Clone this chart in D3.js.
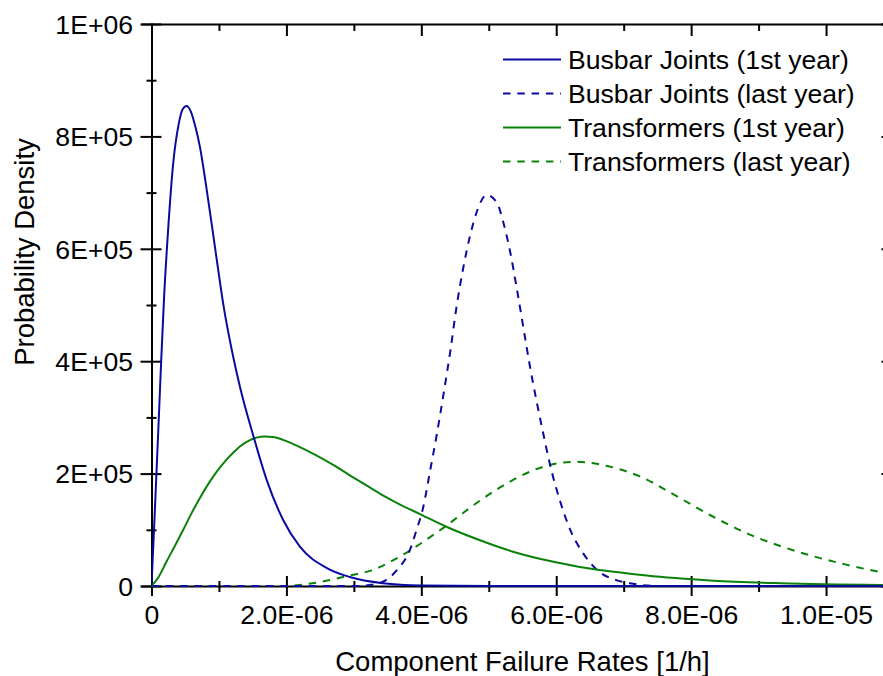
<!DOCTYPE html>
<html>
<head>
<meta charset="utf-8">
<script src="https://cdn.jsdelivr.net/npm/d3@7"></script>
<style>
  html, body { margin: 0; padding: 0; background: #fff; }
  svg { display: block; font-family: "Liberation Sans", Arial, sans-serif; }
</style>
</head>
<body>
<svg id="chart" width="883" height="676"></svg>
<script>
// ---------------- DATA ----------------
// failure rate [1/h] and probability density
const busbar1stX = [0, 0.05e-6, 0.10e-6, 0.14e-6, 0.185e-6, 0.25e-6, 0.32e-6, 0.40e-6, 0.46e-6, 0.52e-6, 0.58e-6, 0.645e-6, 0.72e-6, 0.80e-6, 0.89e-6, 0.98e-6, 1.07e-6, 1.19e-6, 1.31e-6, 1.52e-6, 1.71e-6, 1.95e-6, 2.2e-6, 2.6e-6, 2.94e-6, 3.43e-6, 4.0e-6, 5.0e-6, 11e-6];
const busbar1stY = [0, 1.35e5, 2.75e5, 3.9e5, 5.1e5, 6.4e5, 7.5e5, 8.2e5, 8.48e5, 8.54e5, 8.45e5, 8.2e5, 7.8e5, 7.2e5, 6.46e5, 5.7e5, 4.97e5, 4.2e5, 3.55e5, 2.63e5, 1.88e5, 1.18e5, 0.70e5, 0.32e5, 0.16e5, 0.05e5, 0.01e5, 0, 0];

const busbarLastX = [0, 3.0e-6, 3.24e-6, 3.44e-6, 3.64e-6, 3.83e-6, 3.93e-6, 4.03e-6, 4.13e-6, 4.23e-6, 4.33e-6, 4.43e-6, 4.52e-6, 4.62e-6, 4.72e-6, 4.82e-6, 4.97e-6, 5.12e-6, 5.22e-6, 5.32e-6, 5.41e-6, 5.51e-6, 5.61e-6, 5.71e-6, 5.81e-6, 5.91e-6, 6.06e-6, 6.20e-6, 6.40e-6, 6.60e-6, 6.90e-6, 7.09e-6, 7.5e-6, 11e-6];
const busbarLastY = [0, 0, 0.02e5, 0.08e5, 0.285e5, 0.64e5, 1.0e5, 1.41e5, 2.05e5, 2.70e5, 3.42e5, 4.18e5, 4.95e5, 5.65e5, 6.22e5, 6.65e5, 6.96e5, 6.82e5, 6.45e5, 5.93e5, 5.33e5, 4.62e5, 3.91e5, 3.28e5, 2.70e5, 2.15e5, 1.50e5, 1.02e5, 0.58e5, 0.29e5, 0.10e5, 0.05e5, 0, 0];

const trafo1stX = [0, 0.1e-6, 0.225e-6, 0.35e-6, 0.47e-6, 0.6e-6, 0.72e-6, 0.85e-6, 0.97e-6, 1.1e-6, 1.21e-6, 1.33e-6, 1.46e-6, 1.57e-6, 1.68e-6, 1.8e-6, 1.95e-6, 2.2e-6, 2.45e-6, 2.7e-6, 2.94e-6, 3.2e-6, 3.45e-6, 3.7e-6, 3.98e-6, 4.38e-6, 4.97e-6, 5.36e-6, 5.96e-6, 6.35e-6, 7.09e-6, 7.34e-6, 8.33e-6, 9.32e-6, 10.8e-6, 11e-6];
const trafo1stY = [0, 0.15e5, 0.44e5, 0.72e5, 1.0e5, 1.31e5, 1.57e5, 1.83e5, 2.04e5, 2.23e5, 2.37e5, 2.50e5, 2.595e5, 2.645e5, 2.66e5, 2.65e5, 2.60e5, 2.47e5, 2.32e5, 2.15e5, 1.97e5, 1.78e5, 1.60e5, 1.44e5, 1.28e5, 1.05e5, 0.77e5, 0.61e5, 0.43e5, 0.34e5, 0.22e5, 0.185e5, 0.095e5, 0.05e5, 0.02e5, 0.018e5];

const trafoLastX = [0, 2.0e-6, 2.2e-6, 2.45e-6, 2.7e-6, 2.95e-6, 3.24e-6, 3.39e-6, 3.6e-6, 3.83e-6, 4.13e-6, 4.38e-6, 4.62e-6, 4.87e-6, 5.15e-6, 5.46e-6, 5.86e-6, 6.30e-6, 6.70e-6, 7.24e-6, 7.84e-6, 8.3e-6, 8.82e-6, 9.3e-6, 9.81e-6, 10.3e-6, 10.8e-6, 11e-6];
const trafoLastY = [0, 0, 0.02e5, 0.06e5, 0.12e5, 0.19e5, 0.27e5, 0.34e5, 0.47e5, 0.63e5, 0.87e5, 1.08e5, 1.30e5, 1.52e5, 1.74e5, 1.95e5, 2.14e5, 2.21e5, 2.15e5, 1.95e5, 1.56e5, 1.25e5, 0.94e5, 0.72e5, 0.53e5, 0.38e5, 0.25e5, 0.21e5];

const seriesNames = ["Busbar Joints (1st year)", "Busbar Joints (last year)", "Transformers (1st year)", "Transformers (last year)"];

const xMajorTicks = [0, 2e-6, 4e-6, 6e-6, 8e-6, 1e-5];
const xTickLabels = ["0", "2.0E-06", "4.0E-06", "6.0E-06", "8.0E-06", "1.0E-05"];
const xMinorTicks = [1e-6, 3e-6, 5e-6, 7e-6, 9e-6, 1.1e-5];
const yMajorTicks = [0, 2e5, 4e5, 6e5, 8e5, 1e6];
const yTickLabels = ["0", "2E+05", "4E+05", "6E+05", "8E+05", "1E+06"];
const yMinorTicks = [1e5, 3e5, 5e5, 7e5, 9e5];

const xTitle = "Component Failure Rates [1/h]";
const yTitle = "Probability Density";

// ---------------- LAYOUT / STYLE ----------------
const L = 151.5, R = 893.5, T = 24, B = 586;
const BLUE = "#0a0aa0", GREEN = "#0a820a";
const FS = 26.6;

const svg = d3.select("#chart");
const x = d3.scaleLinear().domain([0, 1.1e-5]).range([L, R]);
const y = d3.scaleLinear().domain([0, 1e6]).range([B, T]);

function styleAxis(g) {
  g.select(".domain").attr("stroke", "#000").attr("stroke-width", 2);
  g.selectAll(".tick line").attr("stroke", "#000").attr("stroke-width", 2);
  g.selectAll(".tick text").attr("fill", "#000").style("font-size", FS + "px")
    .style("font-family", '"Liberation Sans", Arial, sans-serif');
}

// bottom axis (major crossing ticks)
const gB = svg.append("g").attr("transform", `translate(0,${B})`)
  .call(d3.axisBottom(x).tickValues(xMajorTicks).tickFormat((d, i) => xTickLabels[i]).tickSizeOuter(0).tickSize(10));
gB.selectAll(".tick line").attr("y1", -10).attr("y2", 10);
gB.selectAll(".tick text").attr("dy", null).attr("y", 37.5);
styleAxis(gB);
const gBm = svg.append("g").attr("transform", `translate(0,${B})`)
  .call(d3.axisBottom(x).tickValues(xMinorTicks).tickFormat("").tickSizeOuter(0).tickSize(6));
gBm.selectAll(".tick line").attr("y1", -5).attr("y2", 6);
gBm.select(".domain").remove();
styleAxis(gBm);

// top axis (inward ticks)
const gT = svg.append("g").attr("transform", `translate(0,${T})`)
  .call(d3.axisTop(x).tickValues(xMajorTicks).tickFormat("").tickSizeOuter(0).tickSize(-12));
styleAxis(gT);
const gTm = svg.append("g").attr("transform", `translate(0,${T})`)
  .call(d3.axisTop(x).tickValues(xMinorTicks).tickFormat("").tickSizeOuter(0).tickSize(-7));
gTm.select(".domain").remove();
styleAxis(gTm);

// left axis (crossing ticks)
const gL = svg.append("g").attr("transform", `translate(${L},0)`)
  .call(d3.axisLeft(y).tickValues(yMajorTicks).tickFormat((d, i) => yTickLabels[i]).tickSizeOuter(0).tickSize(10));
gL.selectAll(".tick line").attr("x1", -11).attr("x2", 10);
gL.selectAll(".tick text").attr("x", -18.5).attr("dy", "0.35em");
styleAxis(gL);
const gLm = svg.append("g").attr("transform", `translate(${L},0)`)
  .call(d3.axisLeft(y).tickValues(yMinorTicks).tickFormat("").tickSizeOuter(0).tickSize(5));
gLm.selectAll(".tick line").attr("x1", -5).attr("x2", 5);
gLm.select(".domain").remove();
styleAxis(gLm);

// right axis (inward ticks, mostly outside the picture)
const gR = svg.append("g").attr("transform", `translate(${R},0)`)
  .call(d3.axisRight(y).tickValues(yMajorTicks).tickFormat("").tickSizeOuter(0).tickSize(-12));
styleAxis(gR);
const gRm = svg.append("g").attr("transform", `translate(${R},0)`)
  .call(d3.axisRight(y).tickValues(yMinorTicks).tickFormat("").tickSizeOuter(0).tickSize(-7));
gRm.select(".domain").remove();
styleAxis(gRm);

// axis titles
svg.append("text").attr("x", (L + R) / 2).attr("y", 671).attr("text-anchor", "middle")
  .style("font-size", "27.5px").attr("fill", "#000").text(xTitle);
svg.append("text").attr("transform", "translate(34,252) rotate(-90)").attr("text-anchor", "middle")
  .style("font-size", "27.5px").attr("fill", "#000").text(yTitle);

// ---------------- SERIES ----------------
svg.append("clipPath").attr("id", "plotclip").append("rect")
  .attr("x", L).attr("y", T - 2).attr("width", R - L).attr("height", B - T + 4);

const series = [
  { name: seriesNames[0], xs: busbar1stX, ys: busbar1stY, color: BLUE, dash: null },
  { name: seriesNames[1], xs: busbarLastX, ys: busbarLastY, color: BLUE, dash: "7.5,6.8" },
  { name: seriesNames[2], xs: trafo1stX, ys: trafo1stY, color: GREEN, dash: null },
  { name: seriesNames[3], xs: trafoLastX, ys: trafoLastY, color: GREEN, dash: "7.5,6.8" }
];

const line = d3.line().x(d => x(d[0])).y(d => y(d[1])).curve(d3.curveMonotoneX);
const gLines = svg.append("g").attr("clip-path", "url(#plotclip)");
// draw dashed first, solid last (blue solid on top)
[3, 1, 2, 0].forEach(i => {
  const s = series[i];
  gLines.append("path")
    .datum(s.xs.map((v, k) => [v, s.ys[k]]))
    .attr("fill", "none").attr("stroke", s.color).attr("stroke-width", 2)
    .attr("stroke-dasharray", s.dash).attr("stroke-linejoin", "round")
    .attr("d", line);
});

// ---------------- LEGEND ----------------
const leg = svg.append("g");
series.forEach((s, i) => {
  const ly = 59.5 + i * 34;
  leg.append("line").attr("x1", 503).attr("x2", 561).attr("y1", ly).attr("y2", ly)
    .attr("stroke", s.color).attr("stroke-width", 2).attr("stroke-dasharray", s.dash);
  leg.append("text").attr("x", 568).attr("y", ly).attr("dy", "0.35em")
    .style("font-size", FS + "px").attr("fill", "#000").text(s.name);
});
</script>
</body>
</html>
